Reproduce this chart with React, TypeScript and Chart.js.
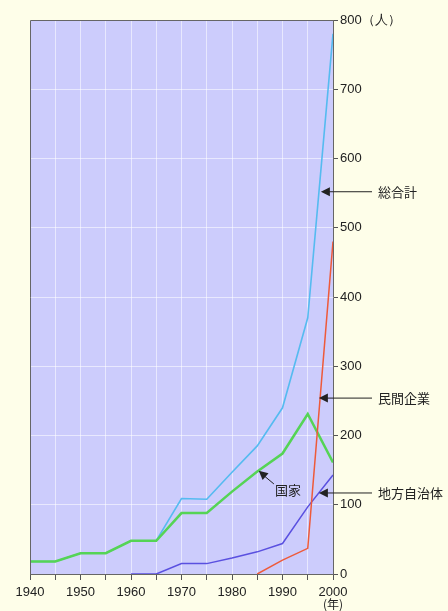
import React, { useEffect, useRef } from "react";
import { Chart, registerables } from "chart.js";

Chart.register(...registerables);

const years = [1940, 1945, 1950, 1955, 1960, 1965, 1970, 1975, 1980, 1985, 1990, 1995, 2000];
const totalVals = [18, 18, 30, 30, 48, 48, 109, 108, 147, 185, 240, 370, 780];
const nationalVals = [18, 18, 30, 30, 48, 48, 88, 88, 119, 148, 174, 231, 161];
const localVals: (number | null)[] = [null, null, null, null, 0, 0, 15, 15, 23, 32, 44, 97, 143];
const privateVals: (number | null)[] = [null, null, null, null, null, null, null, null, null, 0, 20, 37, 480];

const labelTotal = "総合計";
const labelPrivate = "民間企業";
const labelLocal = "地方自治体";
const labelNational = "国家";

const yUnit = "（人）";
const xUnit = "(年)";

// annotation anchors in data coordinates: [tipYear, tipValue]
const annTotal = [1997.6, 552];
const annPrivate = [1997.2, 254];
const annLocal = [1997.2, 117];
const annNational = [1985.3, 149];
const annNationalTail = [1988.3, 130];

const JP = '"Noto Sans CJK JP", "Noto Sans", sans-serif';
const SANS = '"Liberation Sans", Arial, sans-serif';

const toPts = (vals: (number | null)[]) => years.map((y, i) => ({ x: y, y: vals[i] }));

export default function App() {
  const ref = useRef<HTMLCanvasElement>(null);
  useEffect(() => {
    const canvas = ref.current!;
    const bgPlugin = {
      id: "bg",
      beforeDraw(chart: any) {
        const { ctx, chartArea } = chart;
        ctx.save();
        ctx.fillStyle = "#fefee9";
        ctx.fillRect(0, 0, chart.width, chart.height);
        ctx.fillStyle = "#ccccfc";
        ctx.fillRect(chartArea.left, chartArea.top, chartArea.right - chartArea.left, chartArea.bottom - chartArea.top);
        ctx.restore();
      },
    };
    const arrowHead = (ctx: CanvasRenderingContext2D, tx: number, ty: number, fx: number, fy: number) => {
      const ang = Math.atan2(ty - fy, tx - fx);
      const len = 9, w = 4.5;
      ctx.beginPath();
      ctx.moveTo(tx, ty);
      ctx.lineTo(tx - len * Math.cos(ang) + w * Math.sin(ang), ty - len * Math.sin(ang) - w * Math.cos(ang));
      ctx.lineTo(tx - len * Math.cos(ang) - w * Math.sin(ang), ty - len * Math.sin(ang) + w * Math.cos(ang));
      ctx.closePath();
      ctx.fill();
    };
    const annPlugin = {
      id: "ann",
      afterDraw(chart: any) {
        const { ctx, scales, chartArea } = chart;
        const xs = scales.x, ys = scales.y;
        ctx.save();
        // frame top/left
        ctx.strokeStyle = "#666";
        ctx.lineWidth = 1;
        ctx.beginPath();
        ctx.moveTo(chartArea.left + 0.5, chartArea.bottom);
        ctx.lineTo(chartArea.left + 0.5, chartArea.top + 0.5);
        ctx.lineTo(chartArea.right, chartArea.top + 0.5);
        ctx.stroke();

        ctx.strokeStyle = "#222";
        ctx.fillStyle = "#222";
        ctx.lineWidth = 1;
        ctx.font = `13px ${JP}`;
        ctx.textBaseline = "middle";
        const side = (a: number[], label: string) => {
          const tx = xs.getPixelForValue(a[0]);
          const ty = ys.getPixelForValue(a[1]);
          const fx = 372;
          ctx.beginPath();
          ctx.moveTo(fx, ty);
          ctx.lineTo(tx + 4, ty);
          ctx.stroke();
          arrowHead(ctx, tx, ty, fx, ty);
          ctx.textAlign = "left";
          ctx.fillText(label, 378, ty);
        };
        side(annTotal, labelTotal);
        side(annPrivate, labelPrivate);
        side(annLocal, labelLocal);
        const tx = xs.getPixelForValue(annNational[0]);
        const ty = ys.getPixelForValue(annNational[1]);
        const fx = xs.getPixelForValue(annNationalTail[0]);
        const fy = ys.getPixelForValue(annNationalTail[1]);
        ctx.beginPath();
        ctx.moveTo(fx, fy);
        ctx.lineTo(tx + 3, ty + 3);
        ctx.stroke();
        arrowHead(ctx, tx, ty, fx, fy);
        ctx.textAlign = "left";
        ctx.fillText(labelNational, fx + 1, fy + 6);
        // x unit
        ctx.font = `12px ${JP}`;
        ctx.textAlign = "center";
        ctx.fillText(xUnit, xs.getPixelForValue(2000), 604);
        ctx.restore();
      },
    };
    const chart = new Chart(canvas, {
      type: "line",
      data: {
        datasets: [
          { label: labelPrivate, data: toPts(privateVals), borderColor: "#ee5a3a", borderWidth: 1.5, pointRadius: 0, spanGaps: false },
          { label: labelLocal, data: toPts(localVals), borderColor: "#5a50e0", borderWidth: 1.5, pointRadius: 0 },
          { label: labelNational, data: toPts(nationalVals), borderColor: "#55d455", borderWidth: 2.5, pointRadius: 0 },
          { label: labelTotal, data: toPts(totalVals), borderColor: "#55bbf0", borderWidth: 1.6, pointRadius: 0 },
        ],
      },
      options: {
        responsive: false,
        animation: false,
        layout: { padding: { left: 30, top: 20, right: 0, bottom: 0 } },
        plugins: { legend: { display: false }, tooltip: { enabled: false } },
        scales: {
          x: {
            type: "linear",
            min: 1940,
            max: 2000,
            position: "bottom",
            afterFit(s: any) { s.height = 37; },
            grid: { color: "rgba(255,255,255,0.55)", tickColor: "#555", tickLength: 6, lineWidth: 1 },
            border: { color: "#666", width: 1 },
            ticks: {
              stepSize: 5,
              autoSkip: false,
              maxRotation: 0,
              padding: 5,
              color: "#222",
              font: { family: SANS, size: 13 },
              callback: (v: any) => (Number(v) % 10 === 0 ? String(v) : ""),
            },
          },
          y: {
            type: "linear",
            min: 0,
            max: 800,
            position: "right",
            afterFit(s: any) { s.width = 115; },
            grid: { color: "rgba(255,255,255,0.55)", tickColor: "#555", tickLength: 5, lineWidth: 1 },
            border: { color: "#666", width: 1 },
            ticks: {
              stepSize: 100,
              padding: 2,
              color: "#222",
              font: { family: SANS, size: 13 },
              callback: (v: any) => (Number(v) === 800 ? `${v}${yUnit}` : String(v)),
            },
          },
        },
      } as any,
      plugins: [bgPlugin, annPlugin],
    });
    return () => chart.destroy();
  }, []);
  return (
    <div style={{ position: "fixed", left: 0, top: 0, width: 448, height: 611, background: "#fefee9" }}>
      <canvas ref={ref} width={448} height={611} style={{ width: 448, height: 611, display: "block" }} />
    </div>
  );
}
